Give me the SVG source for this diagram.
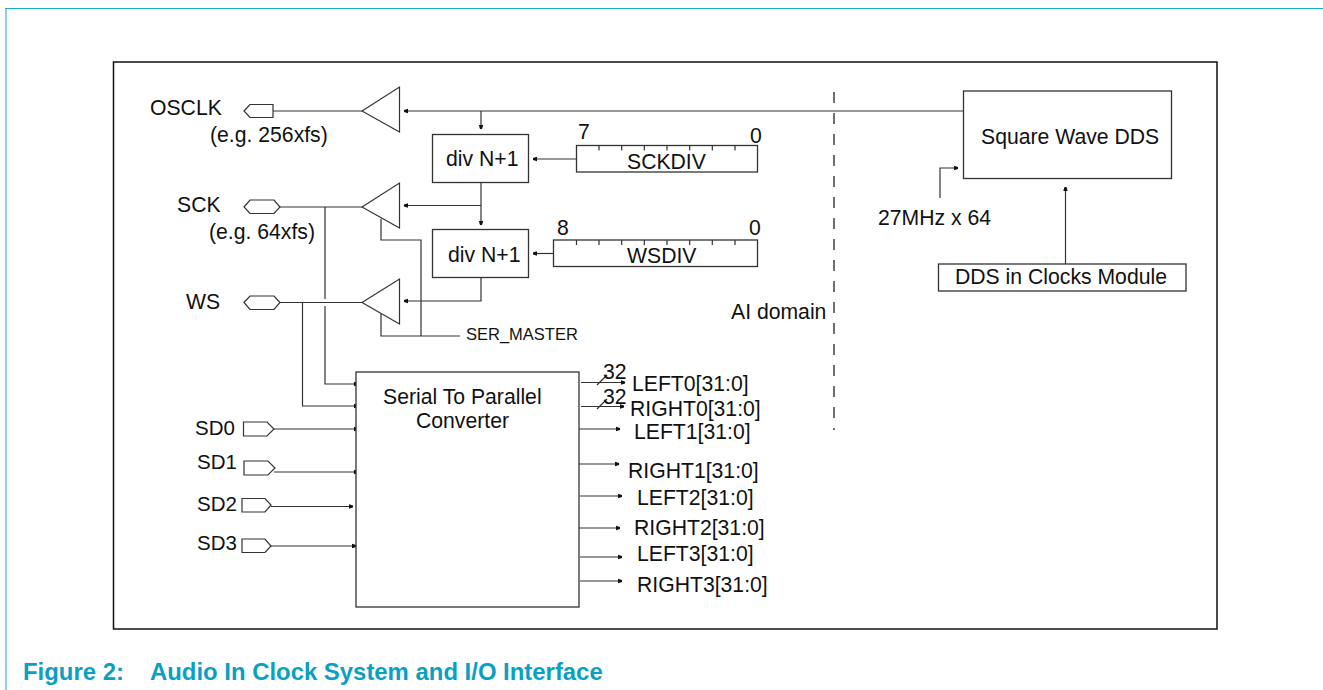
<svg xmlns="http://www.w3.org/2000/svg" width="1323" height="690" viewBox="0 0 1323 690">
<style>
text{font-family:"Liberation Sans",Arial,sans-serif;font-size:21.2px;fill:#111}
.s{font-size:16.5px}
.sd{font-size:20.5px}
.b{fill:#fff;stroke:#333;stroke-width:1.3}
.p{fill:#fff;stroke:#333;stroke-width:1.2}
.w{fill:none;stroke:#333;stroke-width:1.2}
.a{marker-end:url(#ah)}
.cap{font-weight:bold;fill:#0a9fc4;font-size:23.900px}
</style>
<defs>
<marker id="ah" markerUnits="userSpaceOnUse" markerWidth="6" markerHeight="6" refX="5" refY="3" orient="auto"><path d="M1,0.8 L5,2 V4 L1,5.2 Z" fill="#111"/></marker>
</defs>
<path d="M6,8.500 V690" fill="none" stroke="#86d2e6" stroke-width="2"/>
<path d="M1323,8.500 H5" fill="none" stroke="#1aaed0" stroke-width="1.2"/>
<rect x="113.5" y="62" width="1103.5" height="567" fill="none" stroke="#111" stroke-width="1.5"/>
<g id="connectors">
<path class="w a" d="M963,111 H404"/>
<path class="w" d="M362,111 H273"/>
<path class="w a" d="M481,111 V129"/>
<path class="w a" d="M576,159 H533"/>
<path class="w a" d="M481,183 V225"/>
<path class="w a" d="M481,205.5 H404"/>
<path class="w a" d="M553,253.5 H533"/>
<path class="w a" d="M481,277 V301 H404"/>
<path class="w" d="M362,207 H280"/>
<path class="w" d="M362,302.5 H280"/>
<path class="w" d="M381,219 V240 H421 V336"/>
<path class="w" d="M381,314 V336 H460"/>
<path class="w a" d="M325,207 V299 M325,306 V384 H358"/>
<path class="w a" d="M302.500,302.500 V406 H358"/>
<path class="w a" d="M274,429 H358"/>
<path class="w a" d="M274,472 H358"/>
<path class="w a" d="M271,506.500 H353"/>
<path class="w a" d="M271,546 H356"/>
<path class="w a" d="M581,382.500 H625"/>
<path class="w" d="M597,385 L607,375"/>
<path class="w a" d="M581,406.500 H624"/>
<path class="w" d="M597,409 L607,399"/>
<path class="w a" d="M577,429 H620"/>
<path class="w a" d="M577,464 H619"/>
<path class="w a" d="M580,496 H622"/>
<path class="w a" d="M577,528 H620"/>
<path class="w a" d="M580,557 H622"/>
<path class="w a" d="M580,581 H622"/>
<path class="w a" d="M940,198 V168 H958"/>
<path class="w a" d="M1065.500,264 V187"/>
<path d="M834,92 V430" fill="none" stroke="#222" stroke-width="1.3" stroke-dasharray="11 10"/>
</g>
<g id="osclk"><text x="150" y="115">OSCLK</text><text x="210" y="142">(e.g. 256xfs)</text><path class="p" d="M244,111 L250,104.500 H273 V117.500 H250 Z"/></g>
<g id="sck"><text x="177" y="212">SCK</text><text x="209" y="239">(e.g. 64xfs)</text><path class="p" d="M244,207 L250,200 H274 L280,207 L274,213.500 H250 Z"/></g>
<g id="ws"><text x="186" y="309">WS</text><path class="p" d="M244,302.500 L250,296 H274 L280,302.500 L274,309.500 H250 Z"/></g>
<g id="sd0"><text class="sd" x="195" y="435">SD0</text><path class="p" d="M243.500,422 H267 L274,429 L267,436 H243.500 Z"/></g>
<g id="sd1"><text class="sd" x="197" y="469">SD1</text><path class="p" d="M244,461 H268 L275,468 L268,475 H244 Z"/></g>
<g id="sd2"><text class="sd" x="197" y="511">SD2</text><path class="p" d="M242,498.500 H265 L271,505 L265,512 H242 Z"/></g>
<g id="sd3"><text class="sd" x="197" y="550">SD3</text><path class="p" d="M242,539 H265 L271,546 L265,552.500 H242 Z"/></g>
<g id="buf1"><path class="p" d="M362,111 L399.500,87 V132 Z"/></g>
<g id="buf2"><path class="p" d="M362,207 L399.500,183 V228 Z"/></g>
<g id="buf3"><path class="p" d="M362,302.500 L399.500,279 V324 Z"/></g>
<g id="div1"><rect class="b" x="432.500" y="134.500" width="96" height="48"/><text x="446" y="165.500">div N+1</text></g>
<g id="div2"><rect class="b" x="432.500" y="229.500" width="96" height="48"/><text x="448" y="261.500">div N+1</text></g>
<g id="sckdiv"><rect class="b" x="576.500" y="145.500" width="181" height="26.500"/><path class="w" d="M599,145.500 v5 M621.700,145.500 v5 M644.300,145.500 v5 M667,145.500 v5 M689.700,145.500 v5 M712.300,145.500 v5 M735,145.500 v5"/><text x="627" y="169">SCKDIV</text><text x="578" y="139">7</text><text x="750" y="142.500">0</text></g>
<g id="wsdiv"><rect class="b" x="553.500" y="240" width="204" height="26.500"/><path class="w" d="M576.500,240 v5 M599,240 v5 M621.700,240 v5 M644.300,240 v5 M667,240 v5 M689.700,240 v5 M712.300,240 v5 M735,240 v5"/><text x="627" y="263">WSDIV</text><text x="557" y="235">8</text><text x="749" y="235">0</text></g>
<g id="serial"><rect class="b" x="356" y="372" width="223" height="235"/><text x="383" y="404">Serial To Parallel</text><text x="416" y="428">Converter</text></g>
<g id="outputs">
<text x="603" y="379">32</text><text x="603" y="404">32</text>
<text x="632" y="391">LEFT0[31:0]</text><text x="630" y="415.500">RIGHT0[31:0]</text>
<text x="634" y="439">LEFT1[31:0]</text><text x="628" y="477.500">RIGHT1[31:0]</text>
<text x="637" y="505">LEFT2[31:0]</text><text x="634" y="535">RIGHT2[31:0]</text>
<text x="637" y="561">LEFT3[31:0]</text><text x="637" y="591.500">RIGHT3[31:0]</text>
</g>
<g id="ser-master"><text class="s" x="466" y="340">SER_MASTER</text></g>
<g id="ai-domain"><text x="731" y="319">AI domain</text></g>
<g id="dds"><rect class="b" x="963.500" y="91" width="208" height="87.500"/><text x="981" y="144">Square Wave DDS</text></g>
<g id="clk27"><text x="878" y="225">27MHz x 64</text></g>
<g id="ddsclk"><rect class="b" x="938.500" y="264" width="247.500" height="27"/><text x="955" y="284">DDS in Clocks Module</text></g>
<text class="cap" x="23" y="680">Figure 2:</text>
<text class="cap" x="150" y="680">Audio In Clock System and I/O Interface</text>
</svg>
